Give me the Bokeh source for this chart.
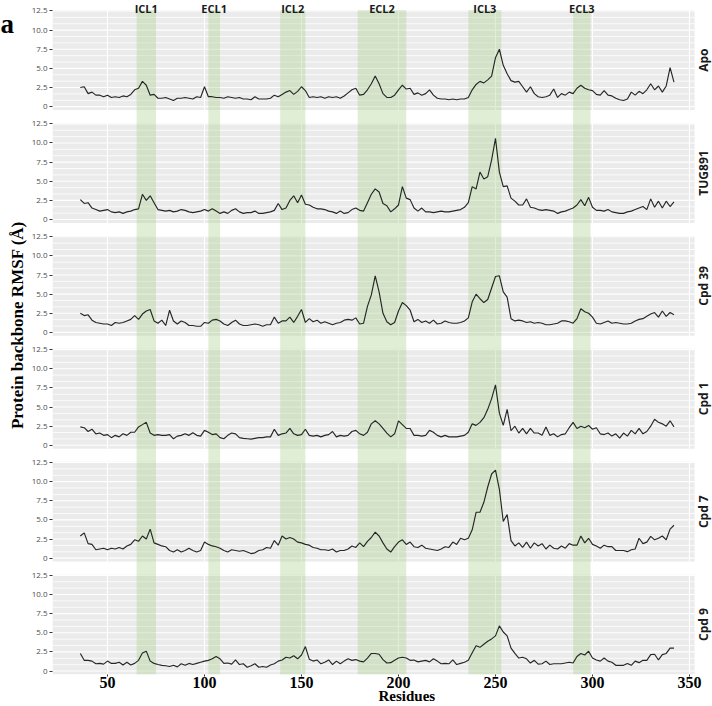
import numpy as np
from bokeh.plotting import figure
from bokeh.layouts import row
from bokeh.models import Range1d, FixedTicker
from bokeh.embed import file_html
from bokeh.resources import INLINE
from bokeh.core.properties import value

# ---------------- data ----------------
residues = list(range(36, 343, 2))

apo = [
    2.5, 2.6, 1.7, 1.9, 1.5, 1.5, 1.3, 1.5, 1.2, 1.3,
    1.2, 1.4, 1.3, 1.6, 2.2, 2.4, 3.3, 2.8, 1.5, 1.6,
    1.1, 1.1, 1.2, 1.0, 0.8, 1.1, 1.1, 1.2, 1.1, 1.0,
    1.3, 1.2, 2.6, 1.3, 1.3, 1.2, 1.2, 1.1, 1.3, 1.2,
    1.1, 1.2, 1.0, 1.0, 0.9, 1.3, 1.0, 1.0, 1.0, 1.1,
    1.5, 1.3, 1.6, 1.9, 2.1, 1.6, 2.0, 2.6, 2.1, 1.2,
    1.3, 1.2, 1.3, 1.1, 1.3, 1.2, 1.3, 1.1, 1.4, 1.8,
    2.2, 2.4, 1.5, 1.6, 2.2, 3.0, 4.0, 3.0, 1.7, 1.2,
    1.2, 1.5, 2.2, 2.8, 2.3, 2.4, 1.6, 1.8, 1.5, 1.7,
    2.2, 1.5, 1.1, 1.0, 1.0, 0.9, 1.0, 0.9, 1.0, 1.0,
    1.2, 2.2, 2.9, 3.3, 3.1, 3.5, 4.0, 6.4, 7.5, 5.4,
    4.3, 3.4, 3.2, 3.3, 2.6, 1.9, 2.6, 1.7, 1.3, 1.2,
    1.3, 1.5, 2.3, 1.2, 1.7, 1.5, 1.9, 1.7, 2.4, 2.8,
    2.4, 2.2, 2.1, 1.6, 1.5, 2.1, 1.5, 1.4, 1.1, 0.9,
    0.8, 1.0, 1.9, 1.5, 2.0, 1.7, 2.2, 3.0, 2.2, 2.7,
    1.9, 2.7, 5.1, 3.2,
]

tug891 = [
    2.6, 2.1, 2.2, 1.5, 1.3, 1.1, 1.2, 1.3, 1.0, 0.9,
    1.0, 0.8, 1.0, 1.1, 1.3, 1.4, 3.3, 2.5, 3.1, 2.2,
    1.3, 1.2, 1.1, 1.2, 1.0, 1.1, 1.3, 1.2, 1.0, 0.9,
    1.0, 1.1, 1.3, 1.1, 1.4, 1.1, 0.8, 1.0, 0.8, 1.2,
    1.4, 1.0, 0.8, 0.9, 0.9, 1.1, 0.8, 0.8, 0.9, 1.0,
    1.2, 2.1, 1.3, 1.5, 2.5, 3.1, 2.2, 3.2, 2.0, 1.9,
    1.6, 1.4, 1.4, 1.3, 1.1, 1.0, 0.8, 1.1, 0.8, 0.9,
    1.3, 1.5, 1.2, 1.1, 2.2, 3.3, 4.0, 3.6, 2.1, 1.8,
    1.0, 1.4, 1.9, 4.3, 2.8, 2.6, 1.5, 1.1, 1.5, 1.0,
    1.0, 0.9, 1.0, 1.1, 1.0, 1.0, 1.1, 1.2, 1.3, 1.6,
    2.2, 4.3, 4.0, 6.2, 5.3, 5.6, 7.8, 10.6, 6.2, 4.3,
    4.4, 2.8, 2.4, 1.9, 1.9, 2.7, 1.6, 1.5, 1.3, 1.2,
    1.3, 1.2, 1.1, 0.8, 1.0, 1.1, 1.3, 1.5, 1.9, 2.6,
    1.8, 2.9, 1.6, 1.2, 1.2, 1.1, 1.3, 1.0, 0.9, 0.8,
    0.8, 1.0, 1.1, 1.3, 1.5, 1.7, 1.3, 2.7, 1.6, 2.4,
    1.5, 2.4, 1.7, 2.3,
]

cpd39 = [
    2.5, 2.2, 2.3, 1.6, 1.3, 1.2, 1.1, 1.1, 0.9, 1.3,
    1.2, 1.3, 1.5, 1.7, 2.2, 1.7, 2.4, 2.8, 3.0, 1.5,
    1.2, 1.6, 0.9, 2.9, 1.5, 1.1, 1.5, 1.3, 0.9, 0.9,
    0.8, 0.8, 1.3, 1.2, 1.6, 1.7, 1.5, 1.1, 0.9, 1.3,
    1.6, 1.1, 0.9, 0.9, 1.0, 1.1, 1.0, 0.8, 1.0, 1.0,
    2.0, 1.2, 1.5, 1.5, 2.0, 1.3, 2.1, 3.0, 1.3, 1.8,
    1.4, 1.6, 1.2, 1.4, 1.2, 1.0, 1.2, 1.3, 1.6, 1.7,
    1.6, 1.9, 1.1, 1.2, 3.4, 4.9, 7.4, 5.3, 2.5, 1.4,
    1.0, 1.3, 2.8, 3.9, 3.5, 2.9, 1.4, 1.7, 1.3, 1.5,
    1.2, 1.6, 1.1, 1.2, 1.5, 1.3, 1.2, 1.2, 1.3, 1.5,
    1.9, 4.0, 5.0, 4.4, 3.9, 4.3, 5.8, 7.3, 7.4, 5.3,
    4.6, 1.8, 1.5, 1.6, 1.5, 1.3, 1.4, 1.2, 1.3, 1.2,
    1.0, 1.0, 1.1, 1.2, 1.5, 1.5, 1.4, 1.2, 1.8, 3.1,
    2.7, 2.5, 2.0, 1.2, 1.1, 1.3, 1.5, 1.2, 1.3, 1.2,
    1.1, 1.1, 1.2, 1.5, 1.7, 1.8, 2.1, 2.4, 2.6, 2.0,
    2.8, 2.1, 2.6, 2.3,
]

cpd1 = [
    2.4, 2.3, 1.8, 2.1, 1.5, 1.6, 1.3, 1.4, 1.0, 1.3,
    1.1, 1.5, 1.3, 1.7, 1.7, 2.4, 2.7, 3.0, 1.6, 1.3,
    1.4, 1.3, 1.3, 1.4, 0.85, 1.2, 1.3, 1.5, 1.3, 1.65,
    1.3, 1.2, 1.95, 1.7, 1.4, 1.5, 1.0, 0.85, 1.3, 1.6,
    1.5, 1.0, 0.9, 0.85, 0.8, 0.9, 1.0, 1.0, 1.1, 1.1,
    2.1, 1.3, 1.5, 1.6, 2.2, 1.5, 1.3, 1.4, 2.1, 1.3,
    1.2, 1.3, 1.1, 1.3, 1.4, 1.8, 1.1, 1.3, 1.2, 1.3,
    1.8, 1.95, 1.5, 1.3, 1.7, 2.8, 3.2, 2.8, 2.2, 1.6,
    1.1, 1.5, 3.2, 2.7, 2.2, 2.2, 1.3, 1.3, 1.2, 1.3,
    1.95, 1.7, 1.3, 1.1, 1.3, 1.1, 1.1, 1.1, 1.2, 1.3,
    1.7, 2.8, 2.6, 3.0, 3.6, 4.7, 6.1, 7.9, 4.2, 2.6,
    4.7, 1.9, 2.5, 1.6, 2.2, 1.5, 2.2, 1.6, 1.6, 1.3,
    2.4, 1.3, 1.5, 1.1, 1.4, 1.5, 2.3, 3.0, 2.2, 2.5,
    2.3, 2.6, 2.1, 2.3, 1.5, 1.4, 1.6, 1.2, 1.5, 0.95,
    1.6, 1.2, 1.95, 1.5, 2.2, 1.5, 1.8, 2.5, 3.4, 3.0,
    2.8, 2.5, 3.2, 2.4,
]

cpd7 = [
    2.9, 3.3, 1.9, 1.8, 1.1, 1.2, 1.3, 1.1, 1.3, 1.2,
    1.4, 1.2, 1.6, 1.8, 2.4, 2.2, 2.9, 2.5, 3.8, 2.0,
    1.8, 1.6, 1.5, 1.0, 0.8, 1.1, 0.8, 1.0, 1.3, 1.0,
    0.8, 1.0, 2.1, 1.8, 1.6, 1.5, 1.3, 1.0, 0.8, 1.1,
    1.0, 0.9, 1.0, 0.8, 0.6, 0.7, 1.0, 1.1, 1.4, 1.3,
    2.3, 1.7, 2.9, 2.5, 2.7, 2.5, 2.1, 2.0, 1.8, 1.7,
    1.4, 1.3, 1.1, 1.1, 1.0, 1.2, 0.8, 1.0, 1.0, 1.2,
    1.6, 1.4, 2.0, 1.5, 2.2, 2.7, 3.4, 2.9, 2.0, 1.2,
    0.8, 1.5, 2.1, 2.4, 1.8, 2.1, 1.5, 1.4, 1.7, 1.3,
    1.2, 1.1, 1.0, 1.2, 1.5, 1.4, 2.1, 1.8, 2.6, 2.4,
    2.6, 3.7, 6.0, 6.0, 7.3, 9.3, 11.0, 11.5, 9.0, 4.8,
    5.7, 2.3, 1.6, 2.0, 1.4, 2.1, 1.3, 2.0, 1.6, 1.9,
    1.2, 1.7, 1.3, 1.2, 1.6, 1.3, 1.9, 1.7, 1.7, 2.9,
    2.0, 2.6, 1.8, 1.6, 1.3, 1.7, 1.5, 1.5, 1.0, 1.0,
    1.0, 0.85, 1.1, 1.2, 2.6, 1.9, 2.1, 2.85, 2.4, 2.6,
    2.9, 2.4, 3.8, 4.3,
]

cpd9 = [
    2.3, 1.4, 1.4, 1.3, 0.95, 1.0, 0.9, 1.3, 1.0, 1.0,
    1.15, 0.8, 1.15, 0.8, 1.0, 1.4, 2.35, 2.6, 1.3, 1.0,
    0.85, 0.75, 0.7, 0.6, 0.75, 0.55, 0.95, 0.75, 1.0, 0.85,
    1.0, 1.15, 1.3, 1.4, 1.6, 1.9, 1.6, 1.0, 1.05, 0.9,
    1.45, 0.85, 0.95, 0.5, 0.7, 0.95, 0.5, 0.6, 0.5, 0.8,
    0.95, 1.3, 1.45, 1.8, 1.7, 2.0, 1.6, 2.1, 3.2, 1.55,
    1.3, 1.45, 0.95, 1.15, 1.45, 0.85, 1.3, 0.95, 1.3, 1.6,
    1.4, 1.5, 1.3, 1.2, 1.7, 2.3, 2.3, 2.2, 1.5, 1.05,
    1.1, 1.4, 1.7, 1.8, 1.7, 1.4, 1.45, 1.2, 1.3, 1.4,
    1.2, 1.6, 1.3, 0.95, 1.0, 0.95, 1.45, 0.85, 1.0, 1.15,
    1.4, 2.4, 3.3, 3.1, 3.5, 3.9, 4.2, 4.6, 5.9, 5.1,
    4.6, 3.0, 2.3, 1.7, 1.8, 1.6, 1.05, 1.4, 0.9, 0.95,
    1.3, 0.85, 0.95, 0.95, 0.95, 1.05, 1.15, 1.05, 1.9, 2.3,
    2.1, 2.6, 1.7, 1.45, 1.3, 1.7, 1.3, 1.15, 0.75, 0.75,
    0.75, 1.0, 0.75, 1.3, 1.1, 1.4, 1.4, 2.15, 2.2, 1.45,
    2.15, 2.3, 3.0, 3.0,
]

panel_names = ["Apo", "TUG891", "Cpd 39", "Cpd 1", "Cpd 7", "Cpd 9"]
panel_series = [apo, tug891, cpd39, cpd1, cpd7, cpd9]

loop_names = ["ICL1", "ECL1", "ICL2", "ECL2", "ICL3", "ECL3"]
loop_start = [65, 102, 139, 179, 236, 290]
loop_end = [75, 108, 152, 204, 253, 299]

y_ticks = [0, 2.5, 5.0, 7.5, 10.0, 12.5]
y_tick_labels = ["0", "2.5", "5.0", "7.5", "10.0", "12.5"]
x_ticks = [50, 100, 150, 200, 250, 300, 350]

y_title = "Protein backbone RMSF (Å)"
x_title = "Residues"
panel_letter = "a"

# ---------------- layout constants ----------------
SPACING = 14.75          # vertical distance between stacked panels (data units)
Y_LO, Y_HI = -0.45, 12.6 # panel extent in RMSF units
X_LO, X_HI = 21.65, 352.6
X_END = 361.86
n = len(panel_series)
offsets = [(n - 1 - k) * SPACING for k in range(n)]
top_edge = offsets[0] + Y_HI
Y_END = offsets[0] + 12.5 + 1.37

H = 706
LEFT_W = 28
W = 712 - LEFT_W

# left strip: panel letter + y title
fa = figure(width=LEFT_W, height=H, x_range=Range1d(0, LEFT_W), y_range=Range1d(0, H),
            output_backend="svg", toolbar_location=None,
            x_axis_location=None, y_axis_location=None,
            min_border_left=0, min_border_right=0, min_border_top=0, min_border_bottom=0)
fa.xgrid.visible = False
fa.ygrid.visible = False
fa.outline_line_color = None
fa.text(x=[0.0], y=[H - 25], text=[panel_letter], text_align="left", text_baseline="alphabetic",
        text_font=value("Liberation Serif"), text_font_style="bold", text_font_size="27px",
        text_color="black")
fa.text(x=[17], y=[H - 340], text=[y_title], angle=np.pi / 2, text_align="center",
        text_baseline="middle", text_font=value("Liberation Serif"), text_font_style="bold",
        text_font_size="17px", text_color="black")

p = figure(width=W, height=H,
           x_range=Range1d(X_LO, X_END), y_range=Range1d(Y_LO, Y_END),
           output_backend="svg", toolbar_location=None,
           min_border_left=24, min_border_right=0, min_border_top=0, min_border_bottom=32)
p.xgrid.visible = False
p.ygrid.visible = False
p.outline_line_color = None
p.background_fill_color = "white"
p.border_fill_color = "white"

# panel backgrounds
p.quad(left=X_LO, right=X_HI, bottom=[o + Y_LO for o in offsets], top=[o + Y_HI for o in offsets],
       fill_color="#EBEBEB", line_color=None)

# grid lines inside each panel (two thin lines between majors, as in the figure)
step = y_ticks[1] - y_ticks[0]
mx0, mx1, my0, my1 = [], [], [], []
for o in offsets:
    for t in y_ticks[:-1]:
        for f in (1.0 / 3.0, 2.0 / 3.0):
            mx0.append(X_LO); mx1.append(X_HI)
            my0.append(o + t + f * step); my1.append(o + t + f * step)
p.segment(x0=mx0, y0=my0, x1=mx1, y1=my1, line_color="white", line_width=0.8)

gx0, gx1, gy0, gy1 = [], [], [], []
for o in offsets:
    for t in y_ticks:
        gx0.append(X_LO); gx1.append(X_HI); gy0.append(o + t); gy1.append(o + t)
    for xt in x_ticks:
        gx0.append(xt); gx1.append(xt); gy0.append(o + Y_LO); gy1.append(o + Y_HI)
p.segment(x0=gx0, y0=gy0, x1=gx1, y1=gy1, line_color="white", line_width=1.1)

# loop bands spanning all panels
p.quad(left=loop_start, right=loop_end, bottom=offsets[-1] + Y_LO, top=top_edge,
       fill_color="#A9D18E", fill_alpha=0.36, line_color=None)

# RMSF lines
for o, s in zip(offsets, panel_series):
    p.line(residues, [v + o for v in s], line_color="#262626", line_width=1.15)

# strip labels (right)
p.text(x=[357.2] * n, y=[o + (Y_LO + Y_HI) / 2 for o in offsets], text=panel_names,
       angle=np.pi / 2, text_align="center", text_baseline="middle",
       text_font=value("Open Sans"), text_font_style="bold", text_font_size="12px",
       text_color="#1A1A1A")

# loop labels (top)
p.text(x=[(a + b) / 2 for a, b in zip(loop_start, loop_end)], y=[Y_END] * len(loop_names),
       text=loop_names, text_align="center", text_baseline="top",
       text_font=value("Open Sans"), text_font_style="bold", text_font_size="11px",
       text_color="#1A1A1A")

# y axis
all_ticks, overrides = [], {}
for o in offsets:
    for t, lab in zip(y_ticks, y_tick_labels):
        all_ticks.append(o + t)
        overrides[o + t] = lab
p.yaxis.ticker = FixedTicker(ticks=all_ticks)
p.yaxis.major_label_overrides = overrides
p.yaxis.major_label_text_font = "Open Sans"
p.yaxis.major_label_text_font_size = "8px"
p.yaxis.major_label_text_color = "#4D4D4D"
p.yaxis.major_label_standoff = 2
p.yaxis.major_tick_out = 3
p.yaxis.major_tick_in = 0
p.yaxis.major_tick_line_color = "#333333"
p.yaxis.minor_tick_line_color = None
p.yaxis.axis_line_color = None

# x axis
p.xaxis.ticker = FixedTicker(ticks=x_ticks)
p.xaxis.axis_label = "\u00a0" * 13 + x_title
p.xaxis.axis_label_text_font = "Liberation Serif"
p.xaxis.axis_label_text_font_style = "bold"
p.xaxis.axis_label_text_font_size = "15px"
p.xaxis.axis_label_text_color = "black"
p.xaxis.axis_label_standoff = -3
p.xaxis.major_label_text_font = "Liberation Serif"
p.xaxis.major_label_text_font_style = "bold"
p.xaxis.major_label_text_font_size = "16px"
p.xaxis.major_label_text_color = "black"
p.xaxis.major_label_standoff = 0
p.xaxis.major_tick_out = 2
p.xaxis.major_tick_in = 0
p.xaxis.major_tick_line_color = "#333333"
p.xaxis.minor_tick_line_color = None
p.xaxis.axis_line_color = None

layout = row(fa, p, spacing=0)
open("out.html", "w").write(file_html(layout, INLINE))
